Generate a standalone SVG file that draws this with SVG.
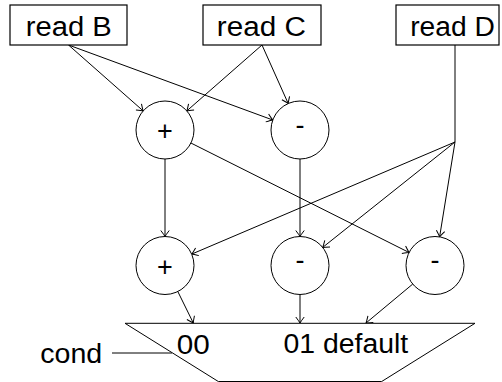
<svg xmlns="http://www.w3.org/2000/svg" width="502" height="382" viewBox="0 0 502 382">
  <style>
    .box { fill: #fff; stroke: #000; stroke-width: 1.2; }
    .op { fill: #fff; stroke: #000; stroke-width: 1; }
    .lbl { font-family: "Liberation Sans", Arial, sans-serif; font-size: 27px; fill: #000; }
    .mid { text-anchor: middle; }
    .edge { fill: none; stroke: #000; stroke-width: 1; }
    .arr { marker-end: url(#tip); }
  </style>
  <defs>
    <marker id="tip" viewBox="-7 -5 8 10" markerWidth="8" markerHeight="10" refX="0" refY="0" orient="auto" markerUnits="userSpaceOnUse">
      <path d="M-6,-4.2 Q-1.5,-0.8 0,0 Q-1.5,0.8 -6,4.2" fill="none" stroke="#000" stroke-width="1"/>
    </marker>
  </defs>

  <!-- connectors -->
  <g id="connectors">
    <!-- read B -->
    <line class="edge arr" x1="68.5" y1="45" x2="143.2" y2="110.9"/>
    <line class="edge arr" x1="68.5" y1="45" x2="272.8" y2="120"/>
    <!-- read C -->
    <line class="edge arr" x1="262" y1="45" x2="186.8" y2="110.9"/>
    <line class="edge arr" x1="262" y1="45" x2="288.2" y2="103.5"/>
    <!-- read D: trunk then fan-out -->
    <line class="edge" x1="455" y1="45" x2="455" y2="142"/>
    <line class="edge arr" x1="455" y1="142" x2="191.7" y2="254.1"/>
    <line class="edge arr" x1="455" y1="142" x2="322.7" y2="247.4"/>
    <line class="edge arr" x1="455" y1="142" x2="439.6" y2="236.9"/>
    <!-- first stage to second stage -->
    <line class="edge arr" x1="165" y1="159" x2="165" y2="236.5"/>
    <line class="edge arr" x1="300" y1="159" x2="300" y2="236.5"/>
    <line class="edge arr" x1="190.9" y1="143" x2="409.1" y2="252.5"/>
    <!-- second stage into the mux -->
    <line class="edge arr" x1="177.8" y1="291.5" x2="193.3" y2="323"/>
    <line class="edge arr" x1="300" y1="294.5" x2="300" y2="323"/>
    <line class="edge arr" x1="412.7" y1="284.1" x2="366" y2="323"/>
    <!-- select input -->
    <line class="edge" x1="112" y1="353" x2="172" y2="353"/>
  </g>

  <g id="readB">
    <rect class="box" x="10" y="5" width="117" height="40"/>
    <text class="lbl" x="25.8" y="36" textLength="86" lengthAdjust="spacingAndGlyphs">read B</text>
  </g>
  <g id="readC">
    <rect class="box" x="203" y="5" width="118" height="40"/>
    <text class="lbl" x="216.8" y="36" textLength="89" lengthAdjust="spacingAndGlyphs">read C</text>
  </g>
  <g id="readD">
    <rect class="box" x="396" y="5" width="103" height="40"/>
    <text class="lbl" x="410.2" y="36" textLength="84.6" lengthAdjust="spacingAndGlyphs">read D</text>
  </g>

  <g id="add1">
    <circle class="op" cx="165" cy="130" r="29"/>
    <text class="lbl mid" x="165" y="139.9">+</text>
  </g>
  <g id="sub1">
    <circle class="op" cx="300" cy="130" r="29"/>
    <text class="lbl mid" x="300" y="134.1">-</text>
  </g>
  <g id="add2">
    <circle class="op" cx="165" cy="265.5" r="29"/>
    <text class="lbl mid" x="165" y="275.6">+</text>
  </g>
  <g id="sub2">
    <circle class="op" cx="300" cy="265.5" r="29"/>
    <text class="lbl mid" x="300" y="269.1">-</text>
  </g>
  <g id="sub3">
    <circle class="op" cx="435" cy="265.5" r="29"/>
    <text class="lbl mid" x="435" y="269.1">-</text>
  </g>

  <g id="mux">
    <polygon class="op" points="125,323.3 475,323.3 381.7,381.5 218.3,381.5"/>
    <text class="lbl" x="176.8" y="354.3" textLength="33" lengthAdjust="spacingAndGlyphs">00</text>
    <text class="lbl" x="283.5" y="353.3" textLength="124.7" lengthAdjust="spacingAndGlyphs">01 default</text>
  </g>
  <g id="cond">
    <text class="lbl" x="40.2" y="362.7" textLength="62" lengthAdjust="spacingAndGlyphs">cond</text>
  </g>
</svg>
